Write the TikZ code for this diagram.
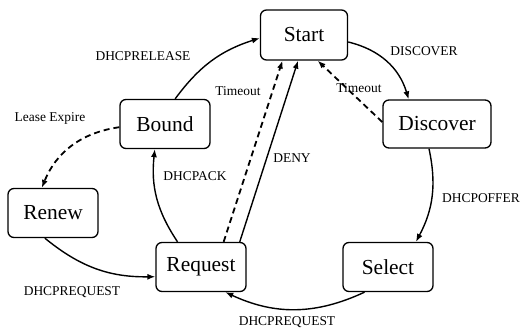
\documentclass[tikz,border=0pt]{standalone}
\usepackage{fontspec}
\setmainfont{LiberationSerif}[Extension=.ttf,UprightFont=*-Regular]
\usetikzlibrary{arrows.meta}
\begin{document}
\begin{tikzpicture}[x=1bp,y=1bp,
    state/.style={draw,line width=1.3bp,rounded corners=6bp,minimum height=49bp,
        inner sep=0pt,font=\rmfamily\fontsize{21.5}{24}\selectfont},
    lbl/.style={inner sep=0pt,font=\rmfamily\fontsize{13.5}{15}\selectfont},
    tr/.style={line width=1.4bp,-{Latex[length=8bp,width=6bp]}},
    to/.style={tr,line width=1.8bp,dash pattern=on 6bp off 4bp}]
    \useasboundingbox (0,0) rectangle (523,329);
    \node[state,minimum width=87bp,minimum height=50bp] (start) at (304,294) {Start};
    \node[state,minimum width=108bp,minimum height=48bp] (discover) at (437,205) {Discover};
    \node[state,minimum width=90bp] (select) at (388,62) {Select};
    \node[state,minimum width=90bp] (request) at (201,62) {Request};
    \node[state,minimum width=90bp] (renew) at (53,116) {Renew};
    \node[state,minimum width=90bp] (bound) at (165,205) {Bound};
    \draw[tr] (start.-9) to[bend left=30] (discover.139);
    \draw[to] (discover.178) -- (start.-62);
    \draw[tr] (discover.-108) to[bend left=20] (select.42);
    \draw[tr] (select.-133) to[bend left=25] (request.-46);
    \draw[tr] (renew.-108) to[bend right=20] (request.-168);
    \draw[to] (bound.184) to[bend right=30] (renew.114);
    \draw[tr] (request.133) to[bend left=20] (bound.-112);
    \draw[tr] (request.33) -- (start.-103);
    \draw[to] (request.48) -- (start.-130);
    \draw[tr] (bound.68) to[bend left=18] (start.184);
    \node[lbl] (release) at (143,273) {DHCPRELEASE};
    \node[lbl] (expire) at (50,211) {Lease Expire};
    \node[lbl] (tmoutl) at (238,238) {Timeout};
    \node[lbl] (disc) at (424,278) {DISCOVER};
    \node[lbl] (tmoutr) at (359,241) {Timeout};
    \node[lbl] (deny) at (292,171) {DENY};
    \node[lbl] (ack) at (195,153) {DHCPACK};
    \node[lbl] (reql) at (72,37) {DHCPREQUEST};
    \node[lbl] (reqb) at (287,7) {DHCPREQUEST};
    \node[lbl] (offer) at (481,131) {DHCPOFFER};
\end{tikzpicture}
\end{document}
